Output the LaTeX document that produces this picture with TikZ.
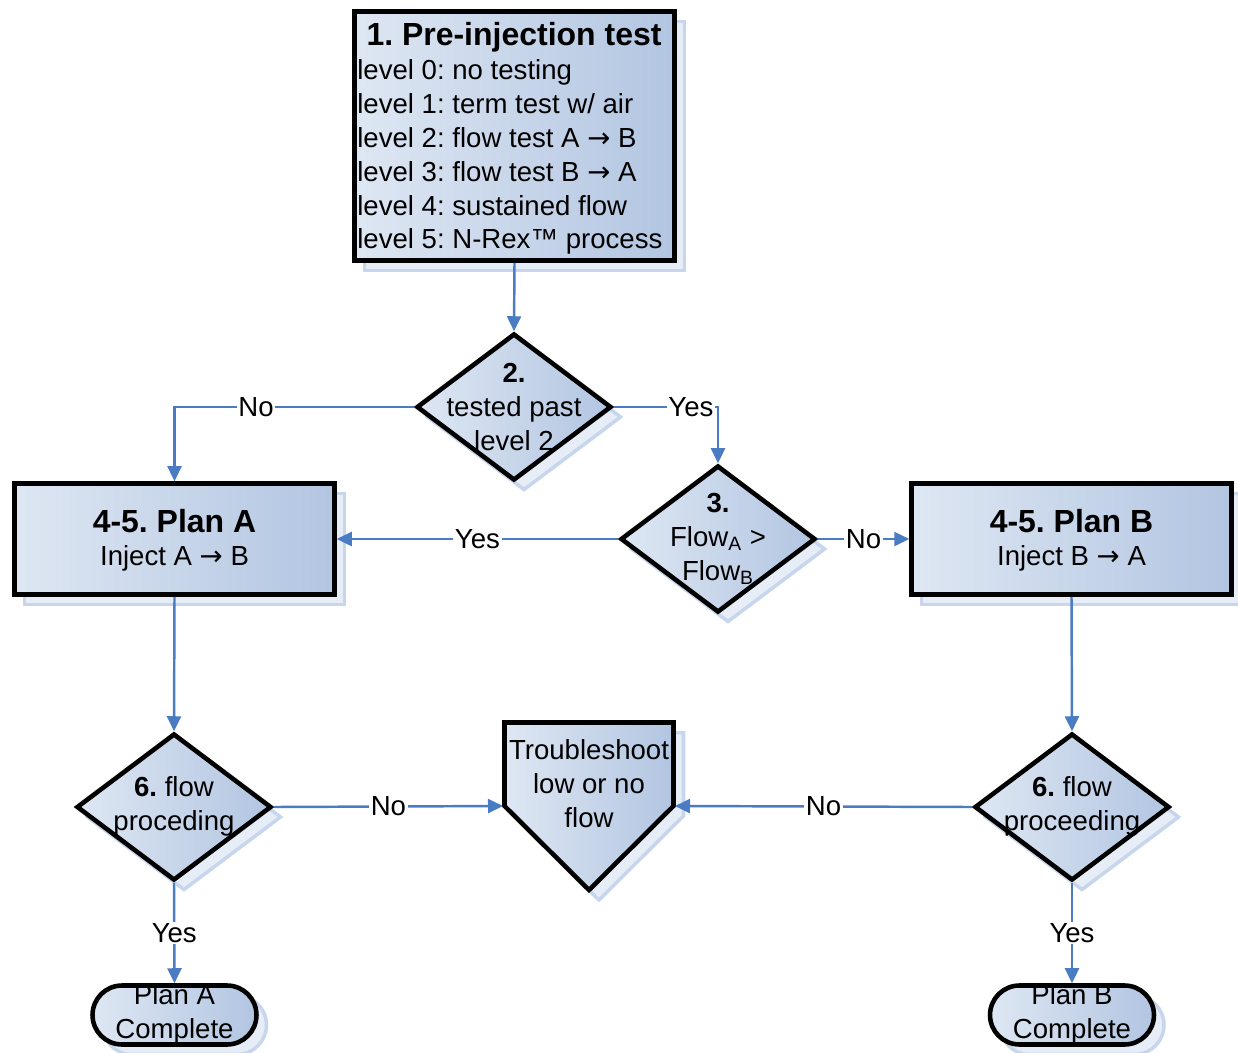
\documentclass[tikz,border=0pt]{standalone}
\usepackage{fontspec}
\setmainfont{Liberation Sans}
\newfontfamily\arrowfont{DejaVu Sans}
\usetikzlibrary{shapes.geometric,shapes.misc,shadows,arrows.meta}
\definecolor{boxlight}{HTML}{DEE7F3}
\definecolor{boxdark}{HTML}{B2C5E1}
\definecolor{shadefill}{HTML}{E6EDF7}
\definecolor{shadeline}{HTML}{C7D6ED}
\definecolor{flowblue}{HTML}{4A7CC4}
\newcommand{\toarrow}{{\arrowfont\char"2192}}
\frenchspacing
\begin{document}
\begin{tikzpicture}[x=0.02cm,y=-0.02cm,
  font=\fontsize{15.7}{19.3}\selectfont,
  shad/.style={drop shadow={shadow xshift=0.2cm,shadow yshift=-0.2cm,fill=shadefill,draw=shadeline,line width=2pt,opacity=1}},
  box/.style={draw=black,line width=2.6pt,left color=boxlight,right color=boxdark,shad,inner sep=0pt},
  decide/.style={box,diamond,minimum width=3.9cm,minimum height=2.94cm},
  term/.style={box,rounded rectangle,minimum width=3.28cm,minimum height=1.18cm},
  head/.style={font=\fontsize{18.2}{22}\selectfont\bfseries,inner sep=0pt},
  txt/.style={align=center,inner sep=0pt},
  arr/.style={-{Triangle[length=0.3cm,width=0.28cm]},draw=flowblue,line width=1.4pt},
  lbl/.style={fill=white,inner sep=1pt}]
\useasboundingbox (0,0) rectangle (1238,1052);

\node[box,minimum width=6.4cm,minimum height=4.98cm] (pre) at (514.5,136) {};
\node[head] (pretitle) at (514,37) {1. Pre-injection test};
\node[anchor=west,align=left,inner sep=0pt] (prelevels) at (357,157) {level 0: no testing\\
level 1: term test w/ air\\
level 2: flow test A \toarrow{} B\\
level 3: flow test B \toarrow{} A\\
level 4: sustained flow\\
level 5: N-Rex™ process};

\node[decide] (d2) at (514,407) {};
\node[txt] (d2text) at (514,407) {\textbf{2.}\\tested past\\level 2};
\node[decide] (d3) at (718,539) {};
\node[txt] (d3text) at (718,539) {\textbf{3.}\\Flow\textsubscript{A} >\\Flow\textsubscript{B}};

\node[box,minimum width=6.4cm,minimum height=2.22cm] (pa) at (174.5,539) {};
\node[head] (patitle) at (174.5,521) {4-5. Plan A};
\node[inner sep=0pt] (pasub) at (174.5,558) {Inject A \toarrow{} B};
\node[box,minimum width=6.4cm,minimum height=2.22cm] (pb) at (1071.5,539) {};
\node[head] (pbtitle) at (1071.5,521) {4-5. Plan B};
\node[inner sep=0pt] (pbsub) at (1071.5,558) {Inject B \toarrow{} A};

\node[decide] (d6a) at (174,807) {};
\node[txt] (d6atext) at (174,806) {\textbf{6.} flow\\proceding};
\node[decide] (d6b) at (1072,807) {};
\node[txt] (d6btext) at (1072,806) {\textbf{6.} flow\\proceeding};

\shade[box,line join=miter] (504.5,722.5) -- (673.5,722.5) -- (673.5,806) -- (589,890) -- (504.5,806) -- cycle;
\coordinate (tsl) at (503,806);
\coordinate (tsr) at (675,806);
\node[txt] (ts) at (589,784) {Troubleshoot\\low or no\\flow};

\node[term] (pac) at (174.5,1015) {};
\node[txt] (pactext) at (174.5,1014) {Plan A\\Complete};
\node[term] (pbc) at (1072,1015) {};
\node[txt] (pbctext) at (1072,1014) {Plan B\\Complete};

\draw[arr] (pre.south) -- (d2.north);
\draw[arr] (d2.west) -| node[lbl,pos=0.33] {No} (pa.north);
\draw[arr] (d2.east) -| node[lbl,pos=0.37] {Yes} (d3.north);
\draw[arr] (d3.west) -- node[lbl] {Yes} (pa.east);
\draw[arr] (d3.east) -- node[lbl] {No} (pb.west);
\draw[arr] (pa.south) -- (d6a.north);
\draw[arr] (pb.south) -- (d6b.north);
\draw[arr] (d6a.east) -- node[lbl] {No} (tsl);
\draw[arr] (d6b.west) -- node[lbl] {No} (tsr);
\draw[arr] (d6a.south) -- node[lbl] {Yes} (pac.north);
\draw[arr] (d6b.south) -- node[lbl] {Yes} (pbc.north);
\end{tikzpicture}
\end{document}
